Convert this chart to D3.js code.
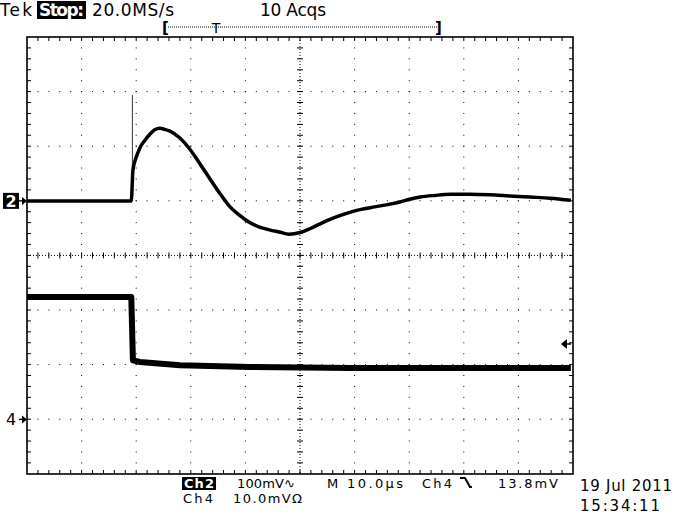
<!DOCTYPE html>
<html><head><meta charset="utf-8">
<script src="https://cdn.jsdelivr.net/npm/d3@7"></script>
<style>html,body{margin:0;padding:0;background:#fff;}svg{display:block;}</style>
</head><body>
<script>
// time in microseconds relative to trigger, values in mV
const timeDomain = [-19.3, 80.7];
const ch2Domain = [-500, 300];   // 100 mV/div, ground 1 div above centre
const ch4Domain = [-10, 70];     // 10 mV/div, ground 3 div below centre
const ch2Time = [-19.3,-0.2,0.1,0.64,1.37,2.3,3.2,4.1,5.0,5.9,6.8,8.7,10.5,12.3,14.1,16.0,17.8,19.6,21.4,23.3,25.1,26.9,28.7,30.7,32.5,34.4,36.2,38.0,39.8,41.7,44.4,47.2,49.0,50.8,52.7,55.4,58.2,61.8,65.5,69.1,72.8,76.5,80.3];
const ch2Vals = [0,0,56,78,97,111,122,130,133,131,128,115,95,69,42,14,-10,-26,-39,-48,-53,-57,-61,-58,-51,-42,-34,-27,-21,-16,-11,-6,-2,3,7,10,12,12,11,9,7,5,1];
const spikeTime = [0, 0];
const spikeVals = [0, 194];
const ch4Time = [-19.3,-0.2,0.1,1.4,8.7,21.5,39.9,80.3];
const ch4Vals = [22.4,22.4,10.8,10.5,9.9,9.6,9.4,9.4];
const triggerLevel = 13.8;
const headerLabels = ["Tek", "Stop:", "20.0MS/s", "10 Acqs"];
const footerLabels = ["Ch2", "100mV\u223F", "M 10.0\u00B5s", "Ch4", "13.8mV", "Ch4", "10.0mV\u03A9", "19 Jul 2011", "15:34:11"];

const W = 699, H = 524;
const L = 27, R = 573, T = 37, B = 474;
const svg = d3.select("body").append("svg").attr("width", W).attr("height", H)
  .style("font-family", "'DejaVu Sans', sans-serif");
svg.append("rect").attr("width", W).attr("height", H).attr("fill", "#fff");

const x = d3.scaleLinear().domain(timeDomain).range([L, R]);
const y2 = d3.scaleLinear().domain(ch2Domain).range([B, T]);
const y4 = d3.scaleLinear().domain(ch4Domain).range([B, T]);

const div = (R - L) / 10, minor = div / 5;
const g = svg.append("g");
// grid dots
for (let k = 1; k < 10; k++) {
  if (k === 5) continue;
  const gx = L + k * div;
  for (let j = 1; j < 40; j++) g.append("rect").attr("x", gx - 0.5).attr("y", T + j * minor - 0.5).attr("width", 1).attr("height", 1).attr("fill", "#000");
}
for (let k = 1; k < 8; k++) {
  if (k === 4) continue;
  const gy = T + k * div;
  for (let j = 1; j < 50; j++) g.append("rect").attr("x", L + j * minor - 0.5).attr("y", gy - 0.5).attr("width", 1).attr("height", 1).attr("fill", "#000");
}
// centre lines
const cx = L + 5 * div, cy = T + 4 * div;
g.append("line").attr("x1", L).attr("x2", R).attr("y1", cy).attr("y2", cy).attr("stroke", "#000").attr("stroke-width", 1).attr("stroke-dasharray", "1,2");
g.append("line").attr("x1", cx).attr("x2", cx).attr("y1", T).attr("y2", B).attr("stroke", "#000").attr("stroke-width", 1).attr("stroke-dasharray", "1,2");
for (let j = 1; j < 50; j++) {
  const px = L + j * minor;
  g.append("line").attr("x1", px).attr("x2", px).attr("y1", cy - 3).attr("y2", cy + 3).attr("stroke", "#000").attr("stroke-width", 1);
  g.append("line").attr("x1", px).attr("x2", px).attr("y1", T).attr("y2", T + 4).attr("stroke", "#000").attr("stroke-width", 1);
  g.append("line").attr("x1", px).attr("x2", px).attr("y1", B).attr("y2", B - 4).attr("stroke", "#000").attr("stroke-width", 1);
}
for (let j = 1; j < 40; j++) {
  const py = T + j * minor;
  g.append("line").attr("y1", py).attr("y2", py).attr("x1", cx - 3).attr("x2", cx + 3).attr("stroke", "#000").attr("stroke-width", 1);
  g.append("line").attr("y1", py).attr("y2", py).attr("x1", L).attr("x2", L + 4).attr("stroke", "#000").attr("stroke-width", 1);
  g.append("line").attr("y1", py).attr("y2", py).attr("x1", R).attr("x2", R - 4).attr("stroke", "#000").attr("stroke-width", 1);
}
// frame
g.append("rect").attr("x", L).attr("y", T).attr("width", R - L).attr("height", B - T)
  .attr("fill", "none").attr("stroke", "#000").attr("stroke-width", 1.6);

// traces
const line2 = d3.line().x(d => x(d[0])).y(d => y2(d[1])).curve(d3.curveMonotoneX);
const line2s = d3.line().x(d => x(d[0])).y(d => y2(d[1]));
const line4 = d3.line().x(d => x(d[0])).y(d => y4(d[1]));
svg.append("path").datum(spikeTime.map((t, i) => [t, spikeVals[i]])).attr("d", line2s)
  .attr("fill", "none").attr("stroke", "#333").attr("stroke-width", 1);
svg.append("path").datum(ch2Time.map((t, i) => [t, ch2Vals[i]])).attr("d", line2)
  .attr("fill", "none").attr("stroke", "#000").attr("stroke-width", 3.5).attr("stroke-linejoin", "round");
svg.append("path").datum(ch4Time.map((t, i) => [t, ch4Vals[i]])).attr("d", line4)
  .attr("fill", "none").attr("stroke", "#000").attr("stroke-width", 6).attr("stroke-linejoin", "round");

// channel markers
svg.append("rect").attr("x", 3).attr("y", y2(0) - 8).attr("width", 16).attr("height", 16).attr("fill", "#000");
svg.append("text").attr("x", 11).attr("y", y2(0) + 6).attr("text-anchor", "middle").attr("fill", "#fff")
  .attr("font-size", 16).attr("font-weight", "bold").text("2");
svg.append("text").attr("x", 6).attr("y", y4(0) + 6).attr("fill", "#000").attr("font-size", 16).text("4");
[y2(0), y4(0)].forEach(yy => {
  svg.append("line").attr("x1", 19).attr("x2", 24).attr("y1", yy).attr("y2", yy).attr("stroke", "#000").attr("stroke-width", 1.4);
  svg.append("path").attr("d", `M27,${yy} L22,${yy - 4} L22,${yy + 4} Z`).attr("fill", "#000");
});
// trigger level arrow
const ty = y4(triggerLevel);
svg.append("path").attr("d", `M561,${ty} L567,${ty - 5} L567,${ty + 5} Z`).attr("fill", "#000");
svg.append("line").attr("x1", 566).attr("x2", 571).attr("y1", ty).attr("y2", ty).attr("stroke", "#000").attr("stroke-width", 1.5);

// header
const hy = 16;
svg.append("text").attr("x", 0).attr("y", hy).attr("font-size", 17).attr("textLength", 32).text(headerLabels[0]);
svg.append("rect").attr("x", 37).attr("y", 1).attr("width", 49).attr("height", 18).attr("fill", "#000");
svg.append("text").attr("x", 39).attr("y", hy).attr("font-size", 17).attr("fill", "#fff").attr("font-weight", "bold").attr("textLength", 45).text(headerLabels[1]);
svg.append("text").attr("x", 92).attr("y", hy).attr("font-size", 17).attr("textLength", 82).text(headerLabels[2]);
svg.append("text").attr("x", 260).attr("y", hy).attr("font-size", 17).attr("textLength", 66).text(headerLabels[3]);
// record bracket
svg.append("text").attr("x", 162).attr("y", 33).attr("font-size", 15).attr("font-weight", "bold").text("[");
svg.append("text").attr("x", 435).attr("y", 33).attr("font-size", 15).attr("font-weight", "bold").text("]");
svg.append("line").attr("x1", 168).attr("x2", 438).attr("y1", 27).attr("y2", 27).attr("stroke", "#000").attr("stroke-width", 1).attr("stroke-dasharray", "1,1");
svg.append("text").attr("x", 216).attr("y", 33).attr("font-size", 14).attr("text-anchor", "middle").text("T");

// footer
const fy = 488, fy2 = 503;
svg.append("rect").attr("x", 182).attr("y", 477).attr("width", 34).attr("height", 13).attr("fill", "#000");
svg.append("text").attr("x", 184).attr("y", fy).attr("font-size", 13).attr("fill", "#fff").attr("font-weight", "bold").attr("textLength", 30).text(footerLabels[0]);
svg.append("text").attr("x", 237).attr("y", fy).attr("font-size", 13).attr("textLength", 58).text(footerLabels[1]);
svg.append("text").attr("x", 327).attr("y", fy).attr("font-size", 13).attr("textLength", 76).text(footerLabels[2]);
svg.append("text").attr("x", 422).attr("y", fy).attr("font-size", 13).attr("textLength", 30).text(footerLabels[3]);
svg.append("path").attr("d", "M460,478 L465,478 L470,487 L472,487").attr("fill", "none").attr("stroke", "#000").attr("stroke-width", 2);
svg.append("text").attr("x", 498).attr("y", fy).attr("font-size", 13).attr("textLength", 60).text(footerLabels[4]);
svg.append("text").attr("x", 183).attr("y", fy2).attr("font-size", 13).attr("textLength", 30).text(footerLabels[5]);
svg.append("text").attr("x", 233).attr("y", fy2).attr("font-size", 13).attr("textLength", 69).text(footerLabels[6]);
svg.append("text").attr("x", 580).attr("y", 491).attr("font-size", 15).attr("textLength", 92).text(footerLabels[7]);
svg.append("text").attr("x", 580).attr("y", 511).attr("font-size", 15).attr("textLength", 80).text(footerLabels[8]);
</script>
</body></html>
